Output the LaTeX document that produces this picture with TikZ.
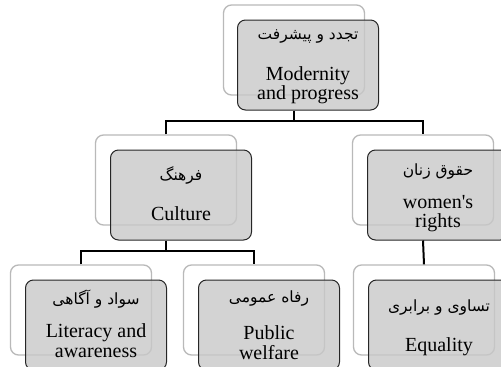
\documentclass[tikz,border=0pt]{standalone}
\usepackage{fontspec}
\setmainfont{Liberation Serif}
\newfontfamily\fa[Script=Arabic]{DejaVu Sans}
\TeXXeTstate=1
\usetikzlibrary{calc}
\definecolor{backline}{RGB}{185,185,185}
\definecolor{frontfill}{RGB}{200,200,200}
\tikzset{
  backbox/.style={draw=backline, line width=1.3pt, rounded corners=8pt, fill=white,
    minimum width=141pt, minimum height=90pt, inner sep=0pt},
  frontbox/.style={draw=black!85, line width=1pt, rounded corners=8pt, fill=frontfill,
    fill opacity=0.8, minimum width=141pt, minimum height=90pt, inner sep=0pt},
  en/.style={anchor=base, inner sep=0pt, font=\fontsize{20}{19}\selectfont},
  fatext/.style={anchor=base, inner sep=0pt, font=\fontsize{15.5}{18}\fa},
  conn/.style={line width=2pt, black}
}
\begin{document}
\begin{tikzpicture}[x=1pt,y=-1pt]
\useasboundingbox (0,0) rectangle (501,367);
\clip (0,0) rectangle (501,367);
% top
\node[backbox] (tb) at (294,50) {};
\node[frontbox] (tf) at (308,65) {};
\node[fatext] (t1) at ([yshift=-20pt]tf.north) {\beginR تجدد و پیشرفت\endR};
\node[en] (t2) at ([yshift=-61pt]tf.north) {Modernity};
\node[en] (t3) at ([yshift=-80pt]tf.north) {and progress};
% culture
\node[backbox] (cb) at (166,180) {};
\node[frontbox] (cf) at (181,195) {};
\node[fatext] (c1) at ([yshift=-31pt]cf.north) {\beginR فرهنگ\endR};
\node[en] (c2) at ([yshift=-71pt]cf.north) {Culture};
% women
\node[backbox] (wb) at (423,180) {};
\node[frontbox] (wf) at (438,195) {};
\node[fatext] (w1) at ([yshift=-26pt]wf.north) {\beginR حقوق زنان\endR};
\node[en] (w2) at ([yshift=-59pt]wf.north) {women\textquotesingle s};
\node[en] (w3) at ([yshift=-78pt]wf.north) {rights};
% literacy
\node[backbox] (lb) at (81,310) {};
\node[frontbox] (lf) at (96,325) {};
\node[fatext] (l1) at ([yshift=-25pt]lf.north) {\beginR سواد و آگاهی\endR};
\node[en] (l2) at ([yshift=-58pt]lf.north) {Literacy and};
\node[en] (l3) at ([yshift=-78pt]lf.north) {awareness};
% public welfare
\node[backbox] (pb) at (254,310) {};
\node[frontbox] (pf) at (269,325) {};
\node[fatext] (p1) at ([yshift=-23pt]pf.north) {\beginR رفاه عمومی\endR};
\node[en] (p2) at ([yshift=-60pt]pf.north) {Public};
\node[en] (p3) at ([yshift=-80pt]pf.north) {welfare};
% equality
\node[backbox] (eb) at (424,310) {};
\node[frontbox] (ef) at (439,325) {};
\node[fatext] (e1) at ([yshift=-32pt]ef.north) {\beginR تساوی و برابری\endR};
\node[en] (e2) at ([yshift=-72pt]ef.north) {Equality};
% connectors
\coordinate (j1) at (294,121);
\coordinate (j2) at (166,251);
\draw[conn] (tb.south |- tf.south) -- (j1);
\draw[conn] (cb.north) |- (j1) -| (wb.north);
\draw[conn] (cb.south |- cf.south) -- (j2);
\draw[conn] (lb.north) |- (j2) -| (pb.north);
\draw[conn] (wb.south |- wf.south) -- (eb.north);
\end{tikzpicture}
\end{document}
